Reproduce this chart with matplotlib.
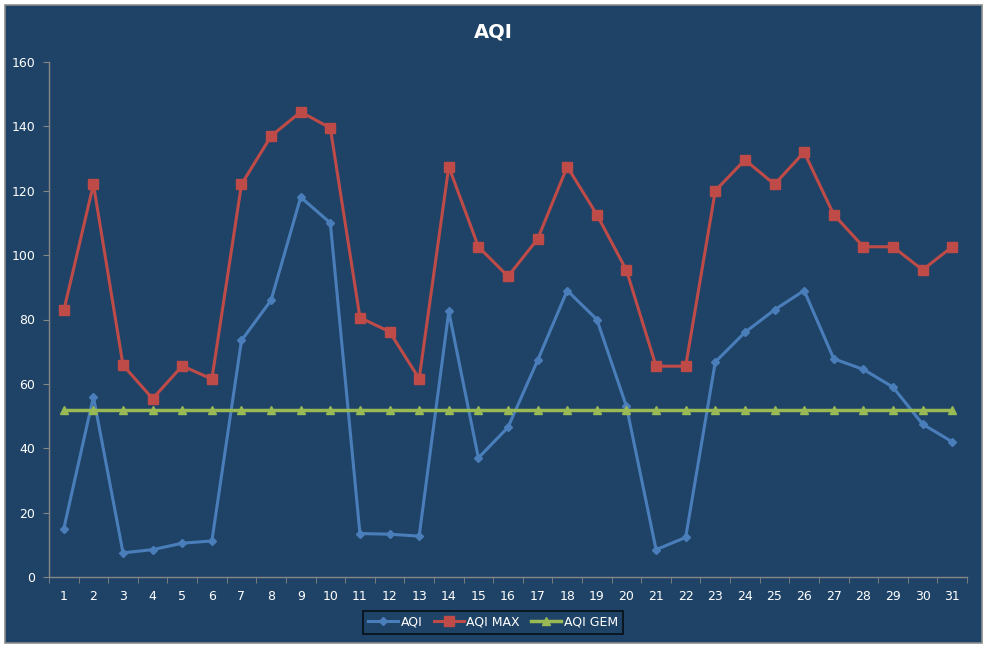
import matplotlib
matplotlib.use("Agg")
import matplotlib.pyplot as plt
from matplotlib.patches import Rectangle
import numpy as np

days = list(range(1, 32))
aqi = [15, 56, 7.5, 8.5, 10.5, 11.2, 73.5, 86, 118, 110, 13.5, 13.3, 12.7, 82.5, 37, 46.5,
       67.3, 89, 80, 53, 8.5, 12.3, 66.8, 76, 83, 89, 67.8, 64.5, 59, 47.5, 42]
aqi_max = [82.8, 122, 65.8, 55.4, 65.6, 61.5, 122, 137, 144.5, 139.5, 80.6, 76.2, 61.6, 127.5,
           102.6, 93.4, 105, 127.5, 112.6, 95.3, 65.5, 65.5, 120, 129.6, 122, 132, 112.6,
           102.6, 102.6, 95.4, 102.6]
aqi_gem = [52] * 31

bg = "#1f4366"
fg = "#ffffff"
axis_col = "#868686"

W, H = 987, 648
fig = plt.figure(figsize=(W / 100, H / 100), dpi=100, facecolor="white")
# chart frame, behind everything
fig.patches.append(Rectangle((5 / W, 1 - 643 / H), 977 / W, 638 / H, transform=fig.transFigure,
                             facecolor=bg, edgecolor="#8c8c8c", linewidth=1.2, zorder=-10))

ax = fig.add_axes([49 / W, 1 - 577 / H, (967 - 49) / W, (577 - 62) / H])
ax.set_facecolor("none")
ax.set_zorder(1)

x = np.arange(len(days))
ax.plot(x, aqi, color="#4a7ebb", lw=2.2, marker="D", ms=4.5, label="AQI")
ax.plot(x, aqi_max, color="#be4b48", lw=2.2, marker="s", ms=7, label="AQI MAX")
ax.plot(x, aqi_gem, color="#98b954", lw=2.5, marker="^", ms=6, label="AQI GEM")

ax.set_xlim(-0.5, len(days) - 0.5)
ax.set_ylim(0, 160)
ax.set_yticks(range(0, 161, 20))
ax.set_xticks(x)
ax.set_xticklabels([str(d) for d in days])
ax.set_xticks(np.arange(-0.5, len(days), 1), minor=True)

for s in ["top", "right"]:
    ax.spines[s].set_visible(False)
for s in ["left", "bottom"]:
    ax.spines[s].set_color(axis_col)
    ax.spines[s].set_linewidth(1)

ax.tick_params(axis="y", colors=fg, labelsize=9, length=4, color=axis_col, pad=6)
ax.tick_params(axis="x", which="major", colors=fg, labelsize=9, length=0, pad=9)
ax.tick_params(axis="x", which="minor", length=4, color=axis_col)
for t in ax.get_xticklabels() + ax.get_yticklabels():
    t.set_color(fg)

fig.text(493 / W, 1 - 32 / H, "AQI", color=fg, fontsize=14, fontweight="bold",
         ha="center", va="center")

leg = ax.legend(loc="center", bbox_to_anchor=(493 / W, 1 - 622 / H), bbox_transform=fig.transFigure,
                ncol=3, frameon=True, fontsize=9, handlelength=2.4, columnspacing=0.9,
                borderpad=0.4, handletextpad=0.2, fancybox=False)
leg.get_frame().set_facecolor(bg)
leg.get_frame().set_edgecolor("black")
leg.get_frame().set_linewidth(1.2)
for t in leg.get_texts():
    t.set_color(fg)

fig.savefig("out.png", dpi=100, facecolor="white")
